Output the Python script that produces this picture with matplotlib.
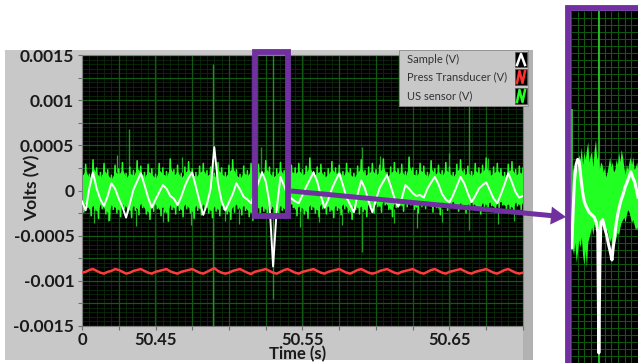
import numpy as np
import matplotlib.pyplot as plt
from matplotlib.patches import Rectangle, FancyArrow
from matplotlib.lines import Line2D
from matplotlib.transforms import Affine2D
from matplotlib.ticker import MultipleLocator

plt.rcParams['font.family'] = ['Lato', 'DejaVu Sans']

# ---- data (volts x 1e-4, sampled every 2.5 ms from 50.40 s) ----
t_start = 50.40
t_step = 0.0025

sample_v = [-1.2, -2.2, 0.3, 2.0, 0.2, -1.0, -1.7, -0.6, 0.8, 0.2,
            -0.9, -1.8, -3.0, -1.5, 0.1, 1.0, 1.9, 0.6, -0.8, -1.9,
            -1.0, -0.2, 0.6, 0.2, -0.6, -0.9, -1.6, -0.7, 0.5, 1.4,
            2.0, 0.4, -1.2, -2.7, -1.5, 0.2, 4.8, 0.8, -1.2, -2.2,
            -1.3, -0.4, 0.8, 0.1, -0.7, -1.0, -1.4, -0.3, 0.9, 2.0,
            1.0, -1.3, -8.4, -2.0, 1.5, 0.5, -0.6, -0.9, -1.2, -1.4,
            -0.5, 0.4, 1.2, 2.0, 1.0, -0.6, -1.9, -1.0, 0.2, 1.1,
            1.9, 0.6, -0.8, -1.6, -2.4, -0.4, 1.1, 0.2, -1.2, -2.4,
            -1.0, 0.3, 1.0, 1.7, 0.5, -0.8, -1.8, -0.9, 0.6, 0.2,
            -0.3, -0.6, -0.5, -0.8, 0.2, 0.9, 1.5, 0.7, -0.4, -1.0,
            -1.3, -0.5, 0.5, 1.5, 0.8, -0.3, -1.3, -0.6, 0.2, 0.6,
            0.9, 0.0, -0.9, -1.4, -0.4, 0.7, 1.9, 0.9, -0.2, -0.8,
            -0.6]

us_upper = [2.2, 2.9, 1.8, 3.4, 2.5, 2.0, 3.0, 2.3, 1.7, 2.8,
            2.4, 3.1, 1.9, 2.6, 2.2, 3.3, 2.7, 2.0, 2.9, 2.4,
            1.8, 3.0, 2.5, 2.1, 3.5, 2.3, 2.8, 1.9, 2.6, 3.2,
            2.4, 2.0, 2.7, 3.0, 2.2, 2.6, 1.9, 3.1, 2.5, 2.0,
            2.8, 3.4, 2.3, 1.8, 2.7, 2.2, 3.0, 2.5, 2.9, 2.1,
            3.3, 2.6, 2.0, 2.4, 3.1, 2.2, 1.9, 2.8, 2.5, 3.0,
            2.3, 2.7, 3.6, 2.1, 2.6, 2.9, 2.0, 2.4, 3.2, 2.5,
            2.8, 2.1, 3.0, 2.4, 1.9, 2.7, 3.4, 2.2, 2.6, 3.0,
            2.3, 2.8, 3.5, 2.0, 2.6, 3.1, 2.4, 2.9, 2.1, 3.7,
            2.5, 2.2, 3.0, 2.7, 2.0, 3.3, 2.4, 2.8, 2.2, 3.1,
            2.6, 2.0, 2.9, 3.4, 2.3, 2.7, 2.1, 3.0, 2.5, 2.8,
            3.6, 2.2, 2.6, 3.0, 2.4, 2.0, 2.9, 3.2, 2.3, 2.7,
            2.5]

us_lower = [-2.4, -1.9, -2.8, -2.2, -3.1, -2.0, -2.6, -3.3, -2.1, -2.5,
            -2.9, -2.0, -2.4, -3.0, -2.2, -2.7, -1.9, -2.6, -3.2, -2.3,
            -2.0, -2.8, -2.4, -3.4, -2.1, -2.6, -2.2, -2.9, -2.0, -2.5,
            -3.1, -2.2, -2.7, -2.0, -2.5, -3.0, -2.3, -2.8, -2.1, -2.6,
            -3.2, -2.4, -2.0, -2.7, -2.2, -2.9, -3.3, -2.1, -2.6, -2.3,
            -2.8, -2.0, -2.5, -3.0, -2.2, -2.7, -2.4, -1.9, -2.8, -2.3,
            -2.6, -3.1, -2.1, -2.5, -2.9, -2.0, -2.6, -2.3, -3.0, -2.2,
            -2.7, -2.0, -2.4, -3.2, -2.1, -2.6, -2.3, -2.9, -2.0, -2.5,
            -1.8, -2.4, -1.6, -2.1, -2.9, -1.9, -1.7, -2.3, -1.8, -1.6,
            -2.1, -2.5, -1.8, -2.0, -1.6, -2.4, -1.9, -2.7, -1.7, -2.2,
            -1.9, -1.6, -2.3, -1.8, -2.5, -2.0, -1.6, -2.2, -2.6, -1.8,
            -2.1, -1.7, -2.4, -1.9, -1.6, -2.2, -2.0, -2.5, -1.7, -2.1,
            -1.8]

press_v = [-9.1, -9.0, -8.8, -8.7, -8.9, -9.1, -9.2, -9.0, -8.9, -8.7,
           -8.8, -9.0, -9.2, -9.1, -8.9, -8.8, -8.7, -8.9, -9.1, -9.2,
           -9.0, -8.9, -8.8, -8.7, -8.95, -9.1, -9.2, -9.0, -8.9, -8.8,
           -8.7, -8.9, -9.1, -9.2, -9.0, -8.8, -8.6, -8.9, -9.1, -9.2,
           -9.1, -8.9, -8.8, -8.7, -8.9, -9.1, -9.25, -9.0, -8.9, -8.8,
           -8.7, -8.9, -9.1, -9.2, -9.0, -8.8, -8.7, -8.9, -9.1, -9.2,
           -9.0, -8.9, -8.8, -8.7, -8.9, -9.1, -9.2, -9.0, -8.9, -8.8,
           -8.7, -8.9, -9.1, -9.2, -9.0, -8.8, -8.7, -8.9, -9.1, -9.2,
           -9.1, -8.9, -8.8, -8.7, -8.9, -9.1, -9.2, -9.0, -8.9, -8.8,
           -8.7, -8.9, -9.1, -9.2, -9.0, -8.8, -8.7, -8.9, -9.1, -9.2,
           -9.0, -8.9, -8.8, -8.7, -8.9, -9.1, -9.2, -9.0, -8.9, -8.8,
           -8.7, -8.9, -9.1, -9.2, -9.0, -8.8, -8.7, -8.9, -9.1, -9.2,
           -9.1]

# long spikes on the US sensor trace
spike_t = [50.4320, 50.4891, 50.5218, 50.5299, 50.5905, 50.6633]
spike_lo = [0.0, -15.0, 0.0, -12.0, -6.8, -4.4]
spike_hi = [6.8, 14.0, 4.8, 15.0, 4.8, 11.0]

# short hairs on the edge of the noise band
hair_t = [50.408, 50.418, 50.437, 50.455, 50.474, 50.497, 50.507, 50.548,
          50.561, 50.577, 50.612, 50.628, 50.645, 50.683, 50.694,
          50.424, 50.468, 50.540, 50.603, 50.650, 50.676]
hair_lo = [-3.6, -3.4, -3.9, -3.5, -3.8, -3.4, -3.7, -4.0,
           -3.5, -3.8, -3.6, -4.2, -3.5, -3.7, -3.4,
           2.0, 2.0, 2.0, 2.0, 2.0, 2.0]
hair_hi = [-2.0, -2.0, -2.0, -2.0, -2.0, -2.0, -2.0, -2.0,
           -2.0, -2.0, -2.0, -2.0, -2.0, -2.0, -2.0,
           3.9, 3.7, 4.0, 3.8, 4.1, 3.6]

# zoomed view (ms, volts x 1e-4)
zoom_sample_t = [0.3, 0.8, 1.3, 2.0, 2.6, 3.2, 3.8, 4.5, 5.2, 6.0, 7.0, 8.0,
                 9.0, 9.8, 10.4, 10.8, 11.2, 11.6, 12.3, 13.0, 13.8, 14.6,
                 15.3, 15.9, 16.4, 17.0, 17.6, 18.3, 19.2, 20.2, 21.0, 21.8,
                 22.5, 23.2, 23.9, 24.7, 25.4, 26.0]
zoom_sample_v = [-2.4, -1.0, 0.2, 0.9, 1.1, 1.0, 0.4, -0.2, -0.6, -0.8, -1.0, -1.1,
                 -1.2, -1.4, -1.8, -6.6, -3.0, -1.4, -1.3, -1.6, -1.9, -2.3,
                 -2.6, -2.9, -2.4, -1.9, -1.4, -1.0, -0.6, -0.3, 0.0, 0.2,
                 0.4, 0.6, 0.4, 0.2, -0.1, -0.4]
zoom_us_upper = [0.6, 0.9, 0.5, 1.0, 0.7, 1.3, 1.1, 1.6, 0.9, 1.4,
                 1.1, 1.5, 1.8, 1.0, 1.3, 1.4, 0.8, 1.5, 1.9, 1.1,
                 1.3, 0.7, 1.0, 0.9, 0.6, 0.8, 0.4, 0.6, 0.9, 1.2,
                 0.8, 1.0, 0.6, 0.7, 1.1, 0.9, 1.4, 1.0, 1.5, 1.2,
                 0.8, 0.5, 0.9, 0.7, 1.0, 1.2, 0.9, 1.2, 0.7, 0.8,
                 1.0, 0.6]
zoom_us_lower = [-2.4, -2.7, -2.2, -3.0, -2.6, -2.1, -2.4, -2.0, -2.7, -3.1,
                 -2.5, -3.2, -2.2, -2.0, -1.8, -1.6, -1.9, -1.5, -1.4, -1.7,
                 -1.6, -1.8, -1.4, -1.3, -1.5, -1.6, -1.9, -1.7, -2.0, -2.2,
                 -2.0, -2.3, -2.1, -2.2, -2.0, -1.8, -1.9, -1.6, -1.4, -1.3,
                 -1.2, -1.4, -1.1, -0.9, -1.0, -1.2, -1.4, -1.3, -1.5, -1.7,
                 -1.6, -1.8]
zoom_spike_t = [0.4, 10.9]
zoom_spike_lo = [-2.5, -7.0]
zoom_spike_hi = [3.1, 7.0]

x_ticks = [50.40, 50.45, 50.55, 50.65]
x_labels = ['0', '50.45', '50.55', '50.65']
y_ticks = [-0.0015, -0.001, -0.0005, 0, 0.0005, 0.001, 0.0015]
y_labels = ['-0.0015', '-0.001', '-0.0005', '0', '0.0005', '0.001', '0.0015']
legend_names = ['Sample (V)', 'Press Transducer (V)', 'US sensor (V)']
legend_colors = ['white', '#ff3030', '#22ff22']

W, H = 638, 363
purple = '#7030a0'
fig = plt.figure(figsize=(W / 100, H / 100), dpi=100)
fig.patch.set_facecolor('white')
px = Affine2D().scale(1 / 100.) + fig.dpi_scale_trans  # pixel coords, origin bottom-left


def Y(y):
    return H - y


# gray front panel + scrollbar strip
fig.add_artist(Rectangle((5, Y(360)), 528, 310, transform=px, fc='#c8c8c8', ec='none', zorder=-2))
fig.add_artist(Rectangle((523, Y(360)), 10, 310, transform=px, fc='#b2b2b2', ec='none', zorder=-1))

ax = fig.add_axes([82 / W, (H - 326) / H, 441 / W, 271 / H])
ax.set_facecolor('black')
ax.set_xlim(50.40, 50.70)
ax.set_ylim(-0.0015, 0.0015)

# graticule
ax.vlines(np.arange(50.40, 50.7001, 0.005), -0.0015, 0.0015, color='#0b2a0b', lw=0.6, zorder=0)
ax.hlines(np.arange(-0.0015, 0.00150001, 0.00005), 50.40, 50.70, color='#0b2a0b', lw=0.6, zorder=0)
ax.vlines(np.arange(50.40, 50.7001, 0.025), -0.0015, 0.0015, color='#115a11', lw=0.9, zorder=0.5)
ax.hlines(np.arange(-0.0015, 0.00150001, 0.00025), 50.40, 50.70, color='#115a11', lw=0.9, zorder=0.5)

e4 = 1e-4
t = t_start + t_step * np.arange(len(sample_v))
up = np.array(us_upper) * e4
lo = np.array(us_lower) * e4

# noise trace: swing between upper and lower envelope every half sample
zz_t = np.empty(2 * len(t))
zz_v = np.empty(2 * len(t))
zz_t[0::2] = t
zz_t[1::2] = t + t_step / 2
zz_v[0::2] = up
zz_v[1::2] = lo

ax.vlines(spike_t, np.array(spike_lo) * e4, np.array(spike_hi) * e4, color='#1c961c', lw=1.0, zorder=1)
ax.vlines(hair_t, np.array(hair_lo) * e4, np.array(hair_hi) * e4, color='#22b022', lw=0.9, zorder=1)
ax.fill_between(t, lo * 0.75, up * 0.75, color='#22ff22', lw=0, zorder=2)
ax.plot(zz_t, zz_v, color='#22ff22', lw=1.1, zorder=2)
ax.plot(t, np.array(sample_v) * e4, color='white', lw=1.4, zorder=3)
ax.plot(t, np.array(press_v) * e4, color='#ff3c3c', lw=1.8, zorder=3)

ax.set_xticks(x_ticks)
ax.set_xticklabels(x_labels, fontsize=12, fontweight='bold', color='#1a1a1a')
ax.set_yticks(y_ticks)
ax.set_yticklabels(y_labels, fontsize=12.5, fontweight='bold', color='#1a1a1a')
ax.xaxis.set_minor_locator(MultipleLocator(0.025))
ax.yaxis.set_minor_locator(MultipleLocator(0.00025))
ax.tick_params(axis='both', which='both', direction='out', length=3, width=0.8, color='#707070')
ax.tick_params(axis='x', pad=1.0)
ax.tick_params(axis='y', pad=2.5)
for s in ax.spines.values():
    s.set_color('#808080')
    s.set_linewidth(0.8)

fig.text(32 / W, Y(188) / H, 'Volts (V)', rotation=90, ha='center', va='center',
         fontsize=12.5, fontweight='bold', color='#1a1a1a')
fig.text(298 / W, Y(354.5) / H, 'Time (s)', ha='center', va='center',
         fontsize=12, fontweight='bold', color='#1a1a1a')

# legend
fig.add_artist(Rectangle((399, Y(106)), 129, 56, transform=px, fc='#c8c8c8', ec='#8c8c8c', lw=0.6, zorder=4))
rows = [(52, 67), (69, 85), (88, 104)]
for name, col, (yt, yb) in zip(legend_names, legend_colors, rows):
    fig.text(407 / W, Y((yt + yb) / 2) / H, name, ha='left', va='center', fontsize=8,
             color='#333333', zorder=5)
    fig.add_artist(Rectangle((515, Y(yb)), 12, yb - yt, transform=px, fc='black', ec='#555555', lw=0.5, zorder=5))
    if name == 'Sample (V)':
        xs, ys = [517, 521, 525], [yb - 2, yt + 2, yb - 2]
    else:
        xs, ys = [517, 519.5, 522.5, 525], [yb - 2, yt + 2, yb - 2, yt + 2]
    fig.add_artist(Line2D(xs, [Y(v) for v in ys], transform=px, color=col, lw=1.8, zorder=6))

# zoomed inset
axz = fig.add_axes([571 / W, 0, 67 / W, (H - 11) / H])
axz.set_facecolor('black')
axz.set_xlim(0, 26)
axz.set_ylim(-0.0007, 0.0007)
axz.set_xticks([])
axz.set_yticks([])
for s in axz.spines.values():
    s.set_visible(False)
axz.vlines(np.arange(0, 26.01, 2.6), -0.0007, 0.0007, color='#0f5a0f', lw=0.8, zorder=0)
axz.hlines(np.arange(-0.0007, 0.0007, 0.000028), 0, 26, color='#0f5a0f', lw=0.7, zorder=0)
tz = 0.5 * np.arange(1, len(zoom_us_upper) + 1)
axz.vlines(zoom_spike_t, np.array(zoom_spike_lo) * e4, np.array(zoom_spike_hi) * e4, color='#2fd02f', lw=1.2, zorder=1)
axz.fill_between(tz, np.array(zoom_us_lower) * e4, np.array(zoom_us_upper) * e4, color='#22ff22', lw=0, zorder=2)
axz.plot(zoom_sample_t, np.array(zoom_sample_v) * e4, color='white', lw=2.2, zorder=3)

# purple highlight, arrow and inset frame
fig.add_artist(Rectangle((255, Y(216)), 33, 164, transform=px, fill=False, ec=purple, lw=4.2,
                         joinstyle='miter', zorder=8))
fig.add_artist(FancyArrow(291, Y(191), 275, -26, width=5, head_width=18, head_length=15,
                          length_includes_head=True, transform=px, color=purple, lw=0, zorder=8))
fig.add_artist(Rectangle((568, -10), 80, Y(8) + 10, transform=px, fill=False, ec=purple, lw=4.2,
                         joinstyle='miter', zorder=8))

fig.savefig('out.png', dpi=100)
